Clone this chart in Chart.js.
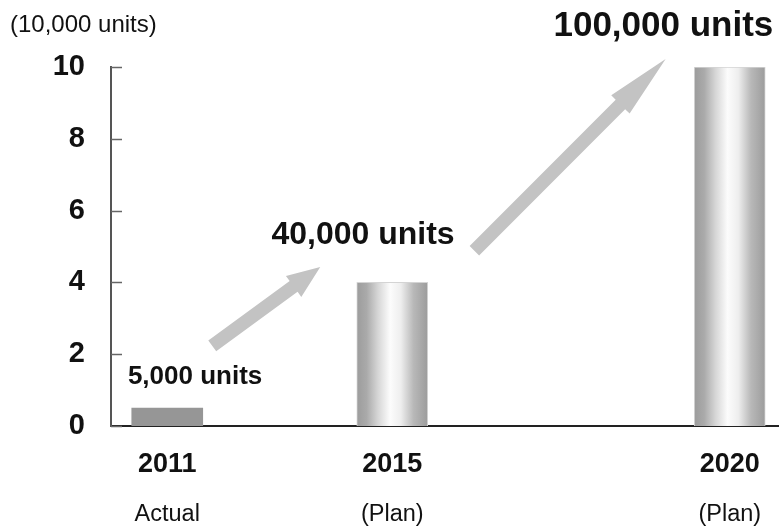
<!DOCTYPE html>
<html><head><meta charset="utf-8">
<script src="https://cdn.jsdelivr.net/npm/chart.js@4"></script>
<style>html,body{margin:0;padding:0;overflow:hidden;background:#fff}#wrap{width:786px;height:529px}</style>
</head><body><div id="wrap"><canvas id="c" width="786" height="529"></canvas></div>
<script>
// ---- data ----
const categories = ['2011', '', '2015', '', '', '2020'];
const subLabels = ['Actual', '', '(Plan)', '', '', '(Plan)'];
const actualValues = [0.5, null, null, null, null, null];
const planValues = [null, null, 4, null, null, 10];
const yTicks = [0, 2, 4, 6, 8, 10];
const unitLabel = '(10,000 units)';
const calloutTexts = ['5,000 units', '40,000 units', '100,000 units'];

// ---- styling / annotation placement (in scale units) ----
const FONT = '"Liberation Sans", Arial, sans-serif';
const BAR_W = 71;
const callouts = [
  { text: calloutTexts[0], slot: -0.35, value: 1.37, size: 26, align: 'left' },
  { text: calloutTexts[1], slot: 1.74, value: 5.32, size: 32, align: 'center' },
  { text: calloutTexts[2], slot: 4.41, value: 11.13, size: 35, align: 'center' }
];
const arrows = [
  { from: [0.40, 2.23], to: [1.36, 4.43], head: 33 },
  { from: [2.73, 4.88], to: [4.43, 10.22], head: 64 }
];

function planFill(ctx) {
  const chart = ctx.chart, xs = chart.scales.x;
  if (!xs || ctx.type !== 'data') return '#bbb';
  const cx = xs.getPixelForValue(ctx.dataIndex);
  if (!isFinite(cx)) return '#bbb';
  const h = BAR_W / 2;
  const g = chart.ctx.createLinearGradient(cx - h, 0, cx + h, 0);
  g.addColorStop(0, '#9c9c9c');
  g.addColorStop(0.14, '#aaaaaa');
  g.addColorStop(0.3, '#d6d6d6');
  g.addColorStop(0.47, '#fcfcfc');
  g.addColorStop(0.62, '#eeeeee');
  g.addColorStop(0.8, '#b8b8b8');
  g.addColorStop(1, '#9c9c9c');
  return g;
}

const decor = {
  id: 'decor',
  afterDatasetsDraw(chart) {
    const c = chart.ctx, xs = chart.scales.x, ys = chart.scales.y, a = chart.chartArea;
    c.save();
    // inward tick marks
    c.strokeStyle = '#666'; c.lineWidth = 1.5;
    yTicks.forEach(v => {
      const y = Math.round(ys.getPixelForValue(v)) + 0.5;
      c.beginPath(); c.moveTo(a.left, y); c.lineTo(a.left + 11, y); c.stroke();
    });
    // arrows
    c.fillStyle = '#c3c3c3';
    arrows.forEach(ar => {
      const x0 = xs.getPixelForValue(ar.from[0]), y0 = ys.getPixelForValue(ar.from[1]);
      const x1 = xs.getPixelForValue(ar.to[0]), y1 = ys.getPixelForValue(ar.to[1]);
      const ang = Math.atan2(y1 - y0, x1 - x0);
      const len = Math.hypot(x1 - x0, y1 - y0);
      const sw = 6.7, hw = 13;
      c.save(); c.translate(x0, y0); c.rotate(ang);
      c.beginPath();
      c.moveTo(0, -sw); c.lineTo(len - ar.head, -sw); c.lineTo(len - ar.head, -hw);
      c.lineTo(len, 0); c.lineTo(len - ar.head, hw); c.lineTo(len - ar.head, sw);
      c.lineTo(0, sw); c.closePath(); c.fill();
      c.restore();
    });
    // callout texts
    c.fillStyle = '#111'; c.textBaseline = 'middle';
    callouts.forEach(t => {
      c.font = 'bold ' + t.size + 'px ' + FONT;
      c.textAlign = t.align;
      c.fillText(t.text, xs.getPixelForValue(t.slot), ys.getPixelForValue(t.value));
    });
    // unit label
    c.font = '24px ' + FONT; c.textAlign = 'left'; c.fillStyle = '#111';
    c.fillText(unitLabel, 10, 25);
    c.restore();
  }
};

new Chart(document.getElementById('c'), {
  type: 'bar',
  data: {
    labels: categories,
    datasets: [
      { label: 'Actual', data: actualValues, backgroundColor: '#969696', borderWidth: 0,
        barThickness: BAR_W, grouped: false },
      { label: 'Plan', data: planValues, backgroundColor: planFill, borderColor: '#d4d4d4',
        borderWidth: { left: 1, right: 1, top: 1 }, barThickness: BAR_W, grouped: false }
    ]
  },
  options: {
    responsive: false,
    animation: false,
    layout: { padding: { top: 67, left: 0, right: 0, bottom: 0 } },
    plugins: { legend: { display: false }, tooltip: { enabled: false }, title: { display: false } },
    scales: {
      x: {
        type: 'category', labels: categories, position: 'bottom',
        grid: { display: false, drawTicks: false },
        border: { display: true, color: '#222', width: 2 },
        ticks: { color: '#111', font: { family: FONT, size: 27, weight: 'bold' }, padding: 22,
                 maxRotation: 0, autoSkip: false },
        afterFit(s) { s.height = 60; }
      },
      x2: {
        type: 'category', labels: subLabels, position: 'bottom',
        grid: { display: false, drawTicks: false },
        border: { display: false },
        ticks: { color: '#111', font: { family: FONT, size: 23.5 }, padding: 14,
                 maxRotation: 0, autoSkip: false },
        afterFit(s) { s.height = 43; }
      },
      y: {
        min: 0, max: 10,
        grid: { display: false, drawTicks: false },
        border: { display: true, color: '#555', width: 2 },
        ticks: { color: '#111', font: { family: FONT, size: 29, weight: 'bold' }, padding: 26 },
        afterBuildTicks(s) { s.ticks = yTicks.map(v => ({ value: v })); },
        afterFit(s) { s.width = 111; }
      }
    }
  },
  plugins: [decor]
});
</script></body></html>
